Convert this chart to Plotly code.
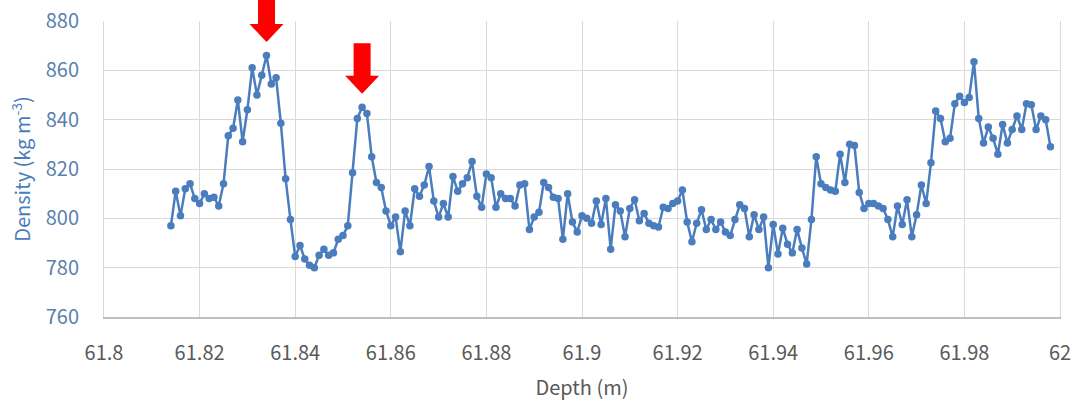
import plotly.graph_objects as go

# Core density profile (1 mm sampling)
depth_m = [
    61.814, 61.815, 61.816, 61.817, 61.818, 61.819, 61.820, 61.821, 61.822, 61.823,
    61.824, 61.825, 61.826, 61.827, 61.828, 61.829, 61.830, 61.831, 61.832, 61.833,
    61.834, 61.835, 61.836, 61.837, 61.838, 61.839, 61.840, 61.841, 61.842, 61.843,
    61.844, 61.845, 61.846, 61.847, 61.848, 61.849, 61.850, 61.851, 61.852, 61.853,
    61.854, 61.855, 61.856, 61.857, 61.858, 61.859, 61.860, 61.861, 61.862, 61.863,
    61.864, 61.865, 61.866, 61.867, 61.868, 61.869, 61.870, 61.871, 61.872, 61.873,
    61.874, 61.875, 61.876, 61.877, 61.878, 61.879, 61.880, 61.881, 61.882, 61.883,
    61.884, 61.885, 61.886, 61.887, 61.888, 61.889, 61.890, 61.891, 61.892, 61.893,
    61.894, 61.895, 61.896, 61.897, 61.898, 61.899, 61.900, 61.901, 61.902, 61.903,
    61.904, 61.905, 61.906, 61.907, 61.908, 61.909, 61.910, 61.911, 61.912, 61.913,
    61.914, 61.915, 61.916, 61.917, 61.918, 61.919, 61.920, 61.921, 61.922, 61.923,
    61.924, 61.925, 61.926, 61.927, 61.928, 61.929, 61.930, 61.931, 61.932, 61.933,
    61.934, 61.935, 61.936, 61.937, 61.938, 61.939, 61.940, 61.941, 61.942, 61.943,
    61.944, 61.945, 61.946, 61.947, 61.948, 61.949, 61.950, 61.951, 61.952, 61.953,
    61.954, 61.955, 61.956, 61.957, 61.958, 61.959, 61.960, 61.961, 61.962, 61.963,
    61.964, 61.965, 61.966, 61.967, 61.968, 61.969, 61.970, 61.971, 61.972, 61.973,
    61.974, 61.975, 61.976, 61.977, 61.978, 61.979, 61.980, 61.981, 61.982, 61.983,
    61.984, 61.985, 61.986, 61.987, 61.988, 61.989, 61.990, 61.991, 61.992, 61.993,
    61.994, 61.995, 61.996, 61.997, 61.998,
]

density = [
    797, 811, 801, 812, 814, 808, 806, 810, 808, 808.5,
    805, 814, 833.5, 836.5, 848, 831, 844, 861, 850, 858,
    866, 854.5, 857, 838.5, 816, 799.5, 784.5, 789, 783.5, 781,
    780, 785, 787.5, 785, 786, 791.5, 793, 797, 818.5, 840.5,
    845, 842.5, 825, 814.5, 812.5, 803, 797, 800.5, 786.5, 803,
    797, 812, 809, 813.5, 821, 807, 800.5, 806, 800.5, 817,
    811, 814, 816.5, 823, 809, 804.5, 818, 816.5, 804.5, 810,
    808, 808, 805, 813.5, 814, 795.5, 800.5, 802.5, 814.5, 812.5,
    808.5, 808, 791.5, 810, 798.5, 794.5, 801, 800, 798, 807,
    797.5, 808, 787.5, 805.5, 803, 792.5, 804, 807.5, 799, 802,
    798, 797, 796.5, 804.5, 804, 806, 807, 811.5, 798.5, 790.5,
    798, 803.5, 795.5, 799.5, 795.5, 798.5, 794.5, 793, 799.5, 805.5,
    804, 792.5, 801.5, 795.5, 800.5, 780, 797.5, 785.5, 796, 789.5,
    786, 795.5, 788, 781.5, 799.5, 825, 814, 812.5, 811.5, 811,
    826, 814.5, 830, 829.5, 810.5, 804, 806, 806, 805, 804,
    799.5, 792.5, 805, 797.5, 807.5, 792.5, 801.5, 813.5, 806, 822.5,
    843.5, 840.5, 831, 832.5, 846.5, 849.5, 847, 849, 863.5, 840.5,
    830.5, 837, 832.5, 826, 838, 830.5, 836, 841.5, 836, 846.5,
    846, 836, 841.5, 840, 829,
]

x_ticks = [61.8, 61.82, 61.84, 61.86, 61.88, 61.9, 61.92, 61.94, 61.96, 61.98, 62.0]
x_tick_labels = ["61.8", "61.82", "61.84", "61.86", "61.88", "61.9",
                 "61.92", "61.94", "61.96", "61.98", "62"]
y_ticks = [760, 780, 800, 820, 840, 860, 880]

# Density peaks marked with arrows
marked_depths = [61.834, 61.854]

x_range = [61.8, 62.0]
y_range = [760, 880]

LINE_BLUE = "#4a7dbd"
FONT = "Noto Sans CJK KR"

fig = go.Figure()
fig.add_trace(go.Scatter(
    x=depth_m, y=density, mode="lines+markers",
    line=dict(color=LINE_BLUE, width=2.5),
    marker=dict(color=LINE_BLUE, size=7.5),
    showlegend=False, hoverinfo="x+y",
))

# Red block arrows pointing down at the marked peaks (drawn in pixel units
# relative to each peak point, so they sit just above it)
arrow_path = ("M 0 13.5 L -17 31.5 L -8.5 31.5 L -8.5 64 "
              "L 8.5 64 L 8.5 31.5 L 17 31.5 Z")
shapes = []
for d in marked_depths:
    i = depth_m.index(d)
    shapes.append(dict(
        type="path", xref="paper", yref="paper",
        xsizemode="pixel", ysizemode="pixel",
        xanchor=(d - x_range[0]) / (x_range[1] - x_range[0]),
        yanchor=(density[i] - y_range[0]) / (y_range[1] - y_range[0]),
        path=arrow_path, fillcolor="#ff0000", line=dict(width=0),
        layer="above",
    ))

fig.update_layout(
    width=1076, height=405,
    margin=dict(l=104, r=16, t=21, b=88),
    paper_bgcolor="white", plot_bgcolor="white",
    font=dict(family=FONT, size=20, color="#595959"),
    shapes=shapes,
    xaxis=dict(
        range=x_range, tickvals=x_ticks, ticktext=x_tick_labels,
        automargin=False,
        showgrid=True, gridcolor="#d9d9d9", gridwidth=1,
        showline=True, linecolor="#bfbfbf", linewidth=1.5,
        ticks="", ticklabelstandoff=17,
        tickfont=dict(family=FONT, size=20, color="#595959"),
        title=dict(text="Depth (m)", standoff=16,
                   font=dict(family=FONT, size=20, color="#595959")),
        zeroline=False,
    ),
    yaxis=dict(
        range=y_range, tickvals=y_ticks,
        automargin=False,
        showgrid=True, gridcolor="#d9d9d9", gridwidth=1,
        showline=True, linecolor="#d9d9d9", mirror=True,
        ticks="", ticklabelstandoff=20,
        tickfont=dict(family=FONT, size=20, color="#5b7fae"),
        title=dict(text="Density (kg m<sup>-3</sup>)", standoff=9,
                   font=dict(family=FONT, size=20, color="#4a7dbd")),
        zeroline=False,
    ),
)

fig.write_html("out.html")
